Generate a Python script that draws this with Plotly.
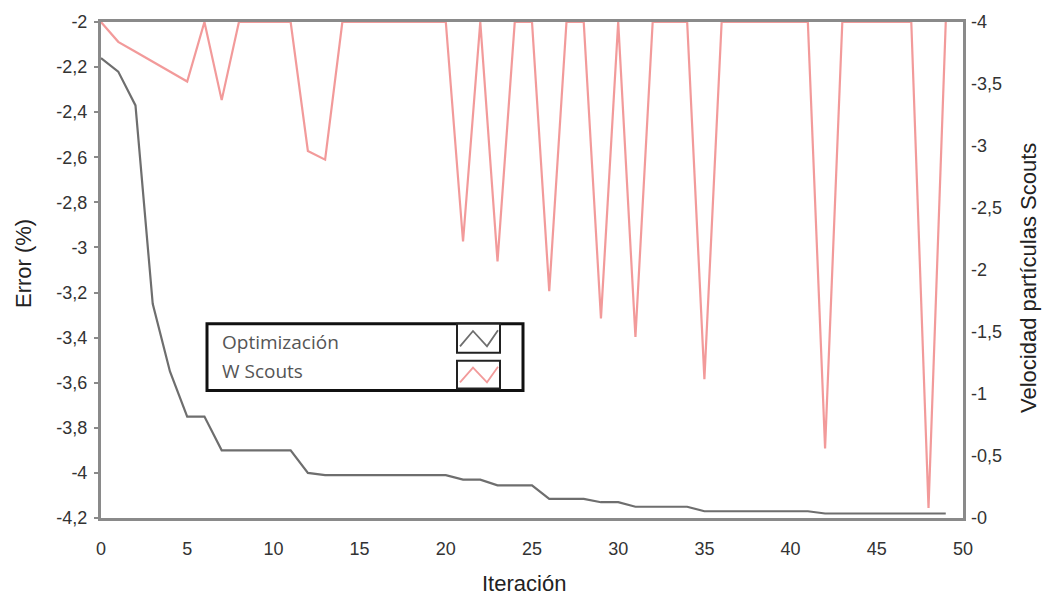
import plotly.graph_objects as go

# Iteration index (x axis)
iteracion = list(range(50))

# Optimisation error (%) — left axis
error_opt = [-2.16, -2.22, -2.37, -3.25, -3.55, -3.75, -3.75, -3.90, -3.90, -3.90,
             -3.90, -3.90, -4.00, -4.01, -4.01, -4.01, -4.01, -4.01, -4.01, -4.01,
             -4.01, -4.03, -4.03, -4.055, -4.055, -4.055, -4.115, -4.115, -4.115, -4.13,
             -4.13, -4.15, -4.15, -4.15, -4.15, -4.17, -4.17, -4.17, -4.17, -4.17,
             -4.17, -4.17, -4.18, -4.18, -4.18, -4.18, -4.18, -4.18, -4.18, -4.18]

# Scout particle velocity — right axis
vel_scouts = [-4.0, -3.84, -3.76, -3.68, -3.60, -3.52, -4.0, -3.37, -4.0, -4.0,
              -4.0, -4.0, -2.96, -2.89, -4.0, -4.0, -4.0, -4.0, -4.0, -4.0,
              -4.0, -2.23, -4.0, -2.07, -4.0, -4.0, -1.83, -4.0, -4.0, -1.61,
              -4.0, -1.46, -4.0, -4.0, -4.0, -1.12, -4.0, -4.0, -4.0, -4.0,
              -4.0, -4.0, -0.56, -4.0, -4.0, -4.0, -4.0, -4.0, -0.08, -4.0]

x_ticks = [0, 5, 10, 15, 20, 25, 30, 35, 40, 45, 50]
x_ticktext = ["0", "5", "10", "15", "20", "25", "30", "35", "40", "45", "50"]
y1_ticks = [-2.0, -2.2, -2.4, -2.6, -2.8, -3.0, -3.2, -3.4, -3.6, -3.8, -4.0, -4.2]
y1_ticktext = ["-2", "-2,2", "-2,4", "-2,6", "-2,8", "-3", "-3,2", "-3,4", "-3,6",
               "-3,8", "-4", "-4,2"]
y2_ticks = [-4.0, -3.5, -3.0, -2.5, -2.0, -1.5, -1.0, -0.5, 0.0]
y2_ticktext = ["-4", "-3,5", "-3", "-2,5", "-2", "-1,5", "-1", "-0,5", "-0"]

series_names = ["Optimización", "W Scouts"]
series_colors = ["#6e6e6e", "rgba(238,120,120,0.75)"]

W, H = 1043, 599
ML, MR, MT, MB = 101, 80, 20, 81
PW, PH = W - ML - MR, H - MT - MB


def px(x):
    return (x - ML) / PW


def py(y):
    return (H - MB - y) / PH


fig = go.Figure()
fig.add_trace(go.Scatter(x=iteracion, y=vel_scouts, mode="lines", name=series_names[1],
                         line=dict(color=series_colors[1], width=2.2), yaxis="y2",
                         showlegend=False))
fig.add_trace(go.Scatter(x=iteracion, y=error_opt, mode="lines", name=series_names[0],
                         line=dict(color=series_colors[0], width=2.2), yaxis="y",
                         showlegend=False))

tick_font = dict(family="Liberation Sans, Arial, sans-serif", size=18, color="#333333")
axis_col = "#8a8a8a"

fig.update_layout(
    width=W, height=H,
    margin=dict(l=ML, r=MR, t=MT, b=MB),
    paper_bgcolor="white", plot_bgcolor="white",
    xaxis=dict(range=[0, 50], tickvals=x_ticks, ticktext=x_ticktext, showgrid=False,
               zeroline=False, showline=True, linecolor=axis_col, linewidth=3, mirror=True,
               ticks="", tickfont=tick_font, ticklabelstandoff=12, layer="below traces"),
    yaxis=dict(range=[-4.2, -2.0], tickvals=y1_ticks, ticktext=y1_ticktext, showgrid=False,
               zeroline=False, showline=True, linecolor=axis_col, linewidth=3, mirror=True,
               ticks="outside", ticklen=4, tickwidth=2, tickcolor=axis_col,
               tickfont=tick_font, ticklabelstandoff=3, layer="below traces"),
    yaxis2=dict(range=[0, -4.0], tickvals=y2_ticks, ticktext=y2_ticktext, overlaying="y",
                side="right", showgrid=False, zeroline=False, showline=False, ticks="",
                tickfont=tick_font, ticklabelstandoff=7),
)

title_font = dict(family="Liberation Sans, Arial, sans-serif", size=22, color="#222222")
fig.add_annotation(text="Error (%)", xref="paper", yref="paper", x=px(23), y=py(263),
                   textangle=-90, showarrow=False, font=title_font,
                   xanchor="center", yanchor="middle")
fig.add_annotation(text="Velocidad partículas Scouts", xref="paper", yref="paper",
                   x=px(1029), y=py(277), textangle=-90, showarrow=False, font=title_font,
                   xanchor="center", yanchor="middle")
fig.add_annotation(text="Iteración", xref="paper", yref="paper", x=px(524), y=py(584),
                   showarrow=False, font=title_font, xanchor="center", yanchor="middle")

# Legend box drawn by hand: labels on the left, line samples on the right
fig.add_shape(type="rect", xref="paper", yref="paper", x0=px(207), x1=px(523),
              y0=py(390), y1=py(323), line=dict(color="#111111", width=3),
              fillcolor="white", layer="above")
leg_font = dict(family="Open Sans, sans-serif", size=19, color="#555555")
for i, (name, ycen) in enumerate(zip(series_names, [341, 370])):
    fig.add_annotation(text=name, xref="paper", yref="paper", x=px(220), y=py(ycen),
                       showarrow=False, font=leg_font, xanchor="left", yanchor="middle")
for (top, bot), col in zip([(323, 352), (360, 388)], series_colors):
    fig.add_shape(type="rect", xref="paper", yref="paper", x0=px(457), x1=px(500),
                  y0=py(bot), y1=py(top), line=dict(color="#222222", width=2),
                  fillcolor="white", layer="above")
    h = bot - top
    pts = [(460, top + 0.78 * h), (473, top + 0.25 * h), (487, top + 0.78 * h),
           (498, top + 0.22 * h)]
    path = "M " + " L ".join(f"{px(a)},{py(b)}" for a, b in pts)
    fig.add_shape(type="path", xref="paper", yref="paper", path=path,
                  line=dict(color=col, width=1.8), layer="above")

fig.write_html("out.html")
